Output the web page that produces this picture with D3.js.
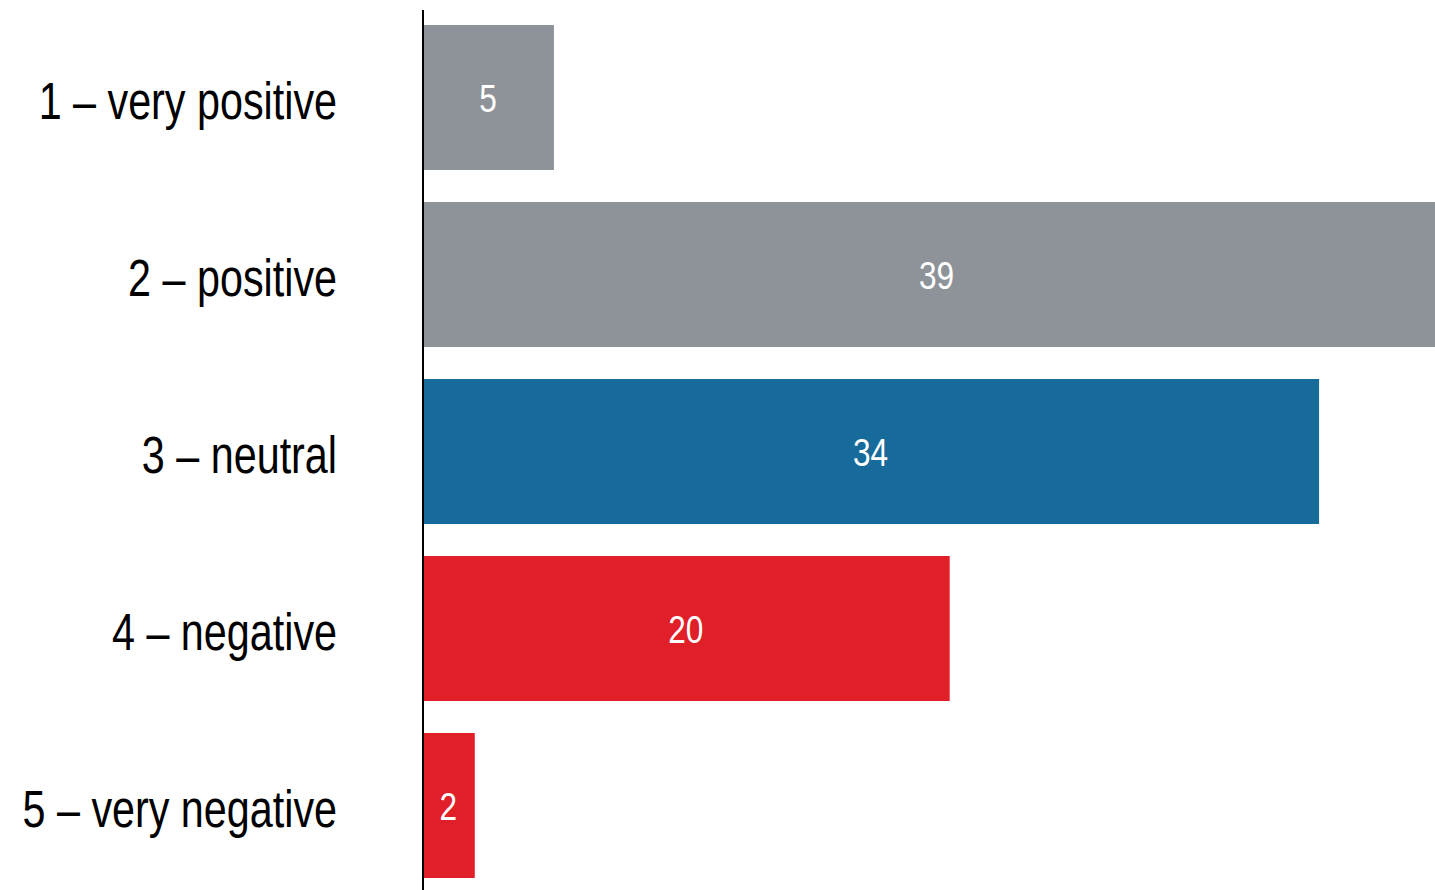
<!DOCTYPE html>
<html>
<head>
<meta charset="utf-8">
<script src="https://cdn.jsdelivr.net/npm/d3@7"></script>
<style>
  body { margin: 0; background: #fff; overflow: hidden; }
  text { font-family: "Liberation Sans", Arial, sans-serif; }
</style>
</head>
<body>
<div id="chart-area"></div>
<script>
// data
const categories = ["1 – very positive", "2 – positive", "3 – neutral", "4 – negative", "5 – very negative"]
const values = [5, 39, 34, 20, 2]
const groups = ["pos", "pos", "neu", "neg", "neg"]

const WIDTH = 1435
const HEIGHT = 890
const NARROW = 0.81 // squeeze Liberation Sans to look like a narrow face

const svg = d3.select("#chart-area").append("svg")
  .attr("width", WIDTH)
  .attr("height", HEIGHT)

const data = categories.map((c, i) => ({ cat: c, value: values[i], group: groups[i] }))

// Scales
const x = d3.scaleLinear()
  .domain([0, 39])
  .range([422, 1451])

const y = d3.scaleBand()
  .domain(categories)
  .range([9, 894])
  .paddingInner(32 / 177)
  .paddingOuter(16 / 177)

const color = d3.scaleOrdinal()
  .domain(["pos", "neu", "neg"])
  .range(["#8e9299", "#176b9b", "#e01f28"])

// Bars
svg.selectAll("rect.bar")
  .data(data)
  .enter().append("rect")
  .attr("class", "bar")
  .attr("x", x(0))
  .attr("y", d => y(d.cat))
  .attr("width", d => x(d.value) - x(0))
  .attr("height", y.bandwidth())
  .attr("fill", d => color(d.group))

// value labels
svg.selectAll("text.val")
  .data(data)
  .enter().append("text")
  .attr("class", "val")
  .attr("transform", d => `translate(${(x(0) + x(d.value)) / 2}, ${y(d.cat) + y.bandwidth() / 2}) scale(${NARROW},1)`)
  .attr("dy", "0.36em")
  .attr("text-anchor", "middle")
  .attr("fill", "#fff")
  .attr("font-size", "39px")
  .text(d => d.value)

// Y axis (line only + labels)
const yAxisCall = d3.axisLeft(y).tickSize(0).tickPadding(0)
const yAxis = svg.append("g")
  .attr("class", "y axis")
  .attr("transform", `translate(${x(0) + 1}, 0)`)
  .call(yAxisCall)

yAxis.select(".domain")
  .attr("d", `M0,10V${HEIGHT}`)
  .attr("stroke", "#000")
  .attr("stroke-width", 2)

yAxis.selectAll(".tick text")
  .attr("font-family", "Liberation Sans, Arial, sans-serif")
  .attr("font-size", "51px")
  .attr("fill", "#000")
  .attr("x", -86 / NARROW)
  .attr("dy", "0.42em")
  .attr("transform", `scale(${NARROW},1)`)
</script>
</body>
</html>
